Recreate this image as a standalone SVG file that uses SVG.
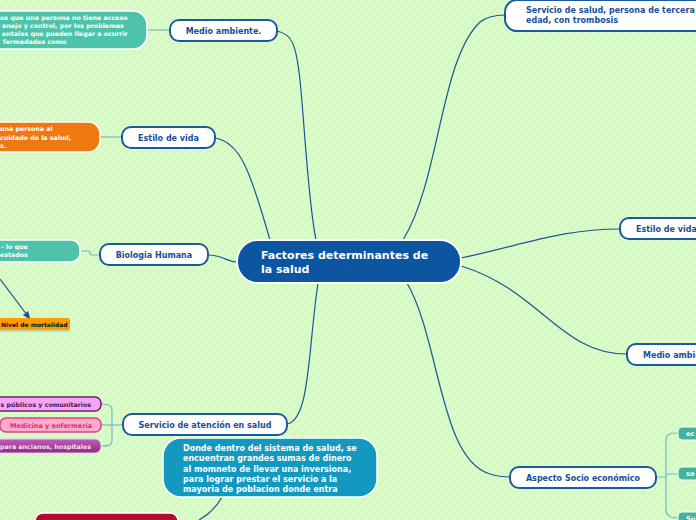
<svg xmlns="http://www.w3.org/2000/svg" width="696" height="520" viewBox="0 0 696 520">
<defs>
<pattern id="bg" width="8" height="8" patternUnits="userSpaceOnUse">
<rect width="8" height="8" fill="#d9fbc8"/>
<path d="M0 8 L8 0" stroke="#cff2bf" stroke-width="1"/>
</pattern>
<marker id="arr" viewBox="0 0 10 10" refX="9" refY="5" markerWidth="7" markerHeight="7" orient="auto">
<path d="M0 1 L10 5 L0 9 z" fill="#1d5596"/>
</marker>
<linearGradient id="pur" x1="0" y1="0" x2="0" y2="1">
<stop offset="0" stop-color="#c060b8"/><stop offset="1" stop-color="#8a2a84"/>
</linearGradient>
</defs>
<style>
text{font-family:"DejaVu Sans",Verdana,sans-serif;font-weight:bold}
.main rect{fill:#ffffff;stroke:#1c5a9e;stroke-width:2}
.main text{fill:#1a4f94;font-size:8px}
.c{stroke:#1d5596;stroke-width:1.2;fill:none}
.s{stroke:#7ab8c6;stroke-width:1.2;fill:none}
.w{fill:#ffffff}
</style>
<rect width="696" height="520" fill="url(#bg)"/>

<g id="connectors">
<path class="c" d="M277 31 C292 34 296 44 300 80 C305 130 308 200 316 240"/>
<path class="c" d="M215 138 C240 142 250 170 270 240"/>
<path class="c" d="M208 255 C222 255 228 262 237 262"/>
<path class="c" d="M287 424 C310 420 308 350 318 283"/>
<path class="c" d="M403 240 C440 180 440 60 480 22 C488 16 496 15 505 15"/>
<path class="c" d="M461 258 C520 246 560 229 620 229"/>
<path class="c" d="M461 266 C540 290 560 354 627 354"/>
<path class="c" d="M407 283 C440 340 440 460 490 474 C496 476 503 477 510 477"/>
<path class="c" d="M222 497 C216 508 208 515 199 520"/>
<path class="c" d="M0 279 L30 319" marker-end="url(#arr)"/>
<path class="s" d="M147 30 L170 30"/>
<path class="s" d="M100 137 L122 137"/>
<path class="s" d="M80 251 L89 251 L91 255 L100 255"/>
<path class="s" d="M101 404 C110 404 112 406 112 412 L112 440 C112 445 110 446 101 446"/>
<path class="s" d="M101 425 L123 425"/>
<path class="s" d="M656 477 L666 477 M678 433 C670 433 666 434 666 440 L666 510 C666 516 670 518 678 518 M666 474 L678 474"/>
</g>

<g id="center">
<rect x="237" y="240" width="224" height="43" rx="21" fill="#0c55a0" stroke="#ffffff" stroke-width="2"/>
<text x="261" y="259" class="w" font-size="11">Factores determinantes de</text>
<text x="261" y="273" class="w" font-size="11">la salud</text>
</g>

<g id="n-medio" class="main"><rect x="170" y="20" width="107" height="21" rx="9"/><text x="223.5" y="34" text-anchor="middle">Medio ambiente.</text></g>
<g id="n-estilo" class="main"><rect x="122" y="127" width="93" height="21" rx="9"/><text x="168.5" y="141" text-anchor="middle">Estilo de vida</text></g>
<g id="n-bio" class="main"><rect x="100" y="244" width="108" height="21" rx="9"/><text x="154" y="258" text-anchor="middle">Biologia Humana</text></g>
<g id="n-serv" class="main"><rect x="123" y="414" width="164" height="21" rx="9"/><text x="205" y="428" text-anchor="middle">Servicio de atención en salud</text></g>
<g id="n-tercera" class="main"><rect x="505" y="0" width="210" height="31" rx="12"/><text x="526" y="13">Servicio de salud, persona de tercera</text><text x="526" y="23">edad, con trombosis</text></g>
<g id="n-estilo2" class="main"><rect x="620" y="218" width="100" height="21" rx="9"/><text x="636" y="232">Estilo de vida</text></g>
<g id="n-medio2" class="main"><rect x="627" y="344" width="100" height="21" rx="9"/><text x="643" y="358">Medio ambiente.</text></g>
<g id="n-socio" class="main"><rect x="510" y="467" width="146" height="21" rx="9"/><text x="583" y="481" text-anchor="middle">Aspecto Socio económico</text></g>

<g id="n-teal1">
<rect x="-40" y="11" width="187" height="38" rx="14" fill="#4ec3a9" stroke="#ffffff" stroke-width="1.5"/>
<text class="w" font-size="6.3"><tspan x="0" y="20">os que una persona no tiene acceso</tspan><tspan x="2" y="28">anejo y control, por los problemas</tspan><tspan x="2" y="36">entales que pueden llegar a ocurrir</tspan><tspan x="3" y="44">fermedades como</tspan></text>
</g>
<g id="n-orange">
<rect x="-40" y="122" width="140" height="30" rx="12" fill="#f07810" stroke="#ffffff" stroke-width="1.5"/>
<text class="w" font-size="6.3"><tspan x="0" y="131">una persona al</tspan><tspan x="0" y="140">cuidado de la salud,</tspan><tspan x="0" y="148">s.</tspan></text>
</g>
<g id="n-teal2">
<rect x="-30" y="240" width="110" height="22" rx="9" fill="#4ec3a9" stroke="#ffffff" stroke-width="1.5"/>
<text class="w" font-size="6.3"><tspan x="1" y="249">- lo que</tspan><tspan x="0" y="257">estados</tspan></text>
</g>
<g id="n-mort">
<rect x="-5" y="318" width="75" height="12" rx="2" fill="#ff9c00"/>
<path d="M0 331 L70 331" stroke="#a9b99a" stroke-width="1"/>
<text x="1" y="327" font-size="6" fill="#111111">Nivel de mortalidad</text>
</g>
<g id="n-publicos">
<rect x="-20" y="397" width="121" height="14" rx="6" fill="#f4a6f4" stroke="#6e1c70" stroke-width="1.5"/>
<text x="91" y="407" text-anchor="end" font-size="6.3" fill="#4e0e58">s públicos y comunitarios</text>
</g>
<g id="n-medicina">
<rect x="0" y="418" width="101" height="14" rx="6" fill="#ffaacb" stroke="#d84586" stroke-width="1.5"/>
<text x="51" y="428" text-anchor="middle" font-size="6.5" fill="#c8357a">Medicina y enfermería</text>
</g>
<g id="n-ancianos">
<rect x="-20" y="439" width="121" height="14" rx="6" fill="url(#pur)" stroke="#f0c8ee" stroke-width="1"/>
<text x="91" y="449" text-anchor="end" font-size="6.3" fill="#fbe0f8">para ancianos, hospitales</text>
</g>
<g id="n-donde">
<rect x="163" y="438" width="214" height="59" rx="18" fill="#1398c0" stroke="#ffffff" stroke-width="1.5"/>
<text class="w" font-size="8"><tspan x="183" y="451">Donde dentro del sistema de salud, se</tspan><tspan x="183" y="461">encuentran grandes sumas de dinero</tspan><tspan x="183" y="472">al momneto de llevar una inversiona,</tspan><tspan x="183" y="482">para lograr prestar el servicio a la</tspan><tspan x="183" y="492">mayoria de poblacion donde entra</tspan></text>
</g>
<g id="n-red">
<rect x="35" y="513" width="143" height="20" rx="8" fill="#b10c2b" stroke="#ffffff" stroke-width="1.5"/>
</g>
<g id="n-ec"><rect x="678" y="427" width="40" height="13" rx="4" fill="#45b29b" stroke="#ffffff" stroke-width="1"/><text x="686" y="436" class="w" font-size="6.6">ec</text></g>
<g id="n-so"><rect x="678" y="467" width="40" height="13" rx="4" fill="#45b29b" stroke="#ffffff" stroke-width="1"/><text x="686" y="476" class="w" font-size="6.6">so</text></g>
<g id="n-su"><rect x="678" y="512" width="40" height="13" rx="4" fill="#45b29b" stroke="#ffffff" stroke-width="1"/><text x="686" y="521" class="w" font-size="6.6">Su</text></g>
</svg>
